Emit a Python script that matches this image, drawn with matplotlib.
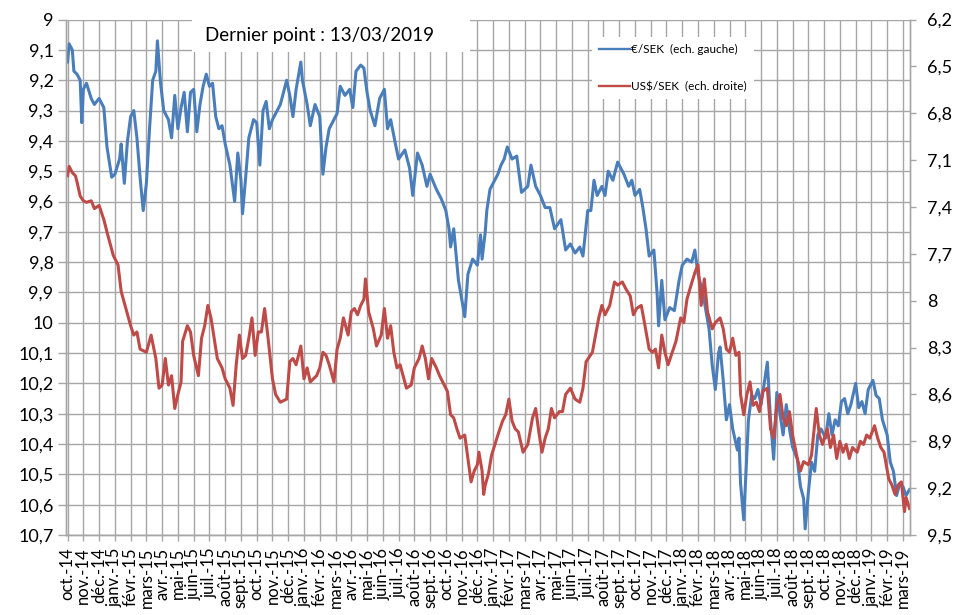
import matplotlib
matplotlib.use("Agg")
import matplotlib.pyplot as plt
from matplotlib.lines import Line2D
from matplotlib.patches import Rectangle
from matplotlib.ticker import FuncFormatter

plt.rcParams["font.family"] = ["Lato", "DejaVu Sans"]

# ---------------- data ----------------
month_labels = [
    "oct.-14", "nov.-14", "déc.-14",
    "janv.-15", "févr.-15", "mars-15", "avr.-15", "mai-15", "juin-15", "juil.-15", "août-15", "sept.-15", "oct.-15", "nov.-15", "déc.-15",
    "janv.-16", "févr.-16", "mars-16", "avr.-16", "mai-16", "juin-16", "juil.-16", "août-16", "sept.-16", "oct.-16", "nov.-16", "déc.-16",
    "janv.-17", "févr.-17", "mars-17", "avr.-17", "mai-17", "juin-17", "juil.-17", "août-17", "sept.-17", "oct.-17", "nov.-17", "déc.-17",
    "janv.-18", "févr.-18", "mars-18", "avr.-18", "mai-18", "juin-18", "juil.-18", "août-18", "sept.-18", "oct.-18", "nov.-18", "déc.-18",
    "janv.-19", "févr.-19", "mars-19",
]

# time in months since 1 Oct 2014
eur_t = [0.0, 0.1, 0.3, 0.4, 0.6, 0.8, 0.9, 1.0, 1.2, 1.5, 1.7, 2.0, 2.3, 2.5, 2.8, 3.0, 3.3, 3.4, 3.6, 3.8,
         4.0, 4.2, 4.4, 4.6, 4.8, 5.0, 5.2, 5.4, 5.6, 5.7, 5.9, 6.1, 6.4, 6.6, 6.8, 7.0, 7.2, 7.4, 7.6, 7.8,
         8.0, 8.2, 8.4, 8.6, 8.8, 9.0, 9.2, 9.4, 9.6, 9.8, 10.0, 10.3, 10.6, 10.8, 11.0, 11.1, 11.3, 11.5, 11.8, 12.0,
         12.2, 12.4, 12.6, 12.8, 13.0, 13.2, 13.5, 13.9, 14.1, 14.3, 14.5, 14.8, 14.9, 15.2, 15.4, 15.7, 16.0, 16.2, 16.4, 16.6,
         16.9, 17.1, 17.3, 17.6, 17.9, 18.1, 18.3, 18.6, 18.8, 19.0, 19.2, 19.5, 19.8, 20.1, 20.3, 20.5, 20.8, 21.0, 21.4, 21.7,
         21.9, 22.2, 22.5, 22.8, 23.0, 23.4, 23.7, 24.0, 24.2, 24.3, 24.5, 24.8, 25.2, 25.4, 25.7, 26.0, 26.2, 26.3, 26.5, 26.6,
         26.8, 27.0, 27.3, 27.5, 27.7, 27.9, 28.2, 28.5, 28.8, 29.2, 29.4, 29.7, 30.0, 30.3, 30.6, 30.9, 31.3, 31.6, 31.9, 32.2,
         32.5, 32.7, 33.0, 33.2, 33.4, 33.6, 33.9, 34.1, 34.3, 34.6, 34.9, 35.3, 35.6, 35.8, 36.0, 36.3, 36.5, 36.7, 36.9, 37.2,
         37.4, 37.5, 37.7, 37.9, 38.2, 38.5, 38.8, 39.0, 39.3, 39.6, 39.8, 40.0, 40.3, 40.7, 40.9, 41.1, 41.3, 41.4, 41.6, 41.8,
         42.0, 42.2, 42.5, 42.6, 42.7, 42.9, 43.0, 43.2, 43.4, 43.6, 43.8, 44.0, 44.4, 44.6, 44.8, 45.0, 45.2, 45.4, 45.6, 45.8,
         46.0, 46.3, 46.5, 46.7, 46.8, 47.0, 47.2, 47.4, 47.6, 47.8, 48.1, 48.3, 48.5, 48.7, 48.9, 49.1, 49.3, 49.5, 49.7, 50.0,
         50.2, 50.4, 50.6, 50.8, 51.1, 51.3, 51.5, 51.7, 52.0, 52.2, 52.4, 52.6, 52.8, 53.0, 53.2, 53.42]
eur_v = [9.14, 9.08, 9.10, 9.17, 9.18, 9.20, 9.34, 9.23, 9.21, 9.26, 9.28, 9.26, 9.29, 9.42, 9.52, 9.51, 9.46, 9.41, 9.54, 9.40,
         9.32, 9.30, 9.39, 9.52, 9.63, 9.54, 9.36, 9.20, 9.17, 9.07, 9.21, 9.30, 9.33, 9.39, 9.25, 9.36, 9.29, 9.24, 9.37, 9.24,
         9.23, 9.37, 9.28, 9.22, 9.18, 9.22, 9.21, 9.32, 9.36, 9.35, 9.41, 9.48, 9.60, 9.44, 9.53, 9.64, 9.52, 9.39, 9.33, 9.34,
         9.48, 9.30, 9.27, 9.36, 9.33, 9.31, 9.28, 9.20, 9.25, 9.32, 9.23, 9.14, 9.20, 9.28, 9.35, 9.28, 9.32, 9.51, 9.42, 9.36,
         9.33, 9.31, 9.22, 9.25, 9.23, 9.29, 9.17, 9.15, 9.16, 9.24, 9.30, 9.35, 9.26, 9.23, 9.36, 9.33, 9.41, 9.46, 9.43, 9.49,
         9.58, 9.44, 9.48, 9.55, 9.51, 9.56, 9.59, 9.63, 9.69, 9.75, 9.69, 9.86, 9.98, 9.84, 9.79, 9.81, 9.71, 9.79, 9.70, 9.63,
         9.56, 9.54, 9.51, 9.48, 9.46, 9.42, 9.46, 9.45, 9.57, 9.55, 9.48, 9.55, 9.58, 9.62, 9.62, 9.69, 9.66, 9.76, 9.74, 9.77,
         9.75, 9.78, 9.63, 9.63, 9.53, 9.58, 9.55, 9.58, 9.50, 9.53, 9.47, 9.51, 9.55, 9.53, 9.58, 9.56, 9.62, 9.69, 9.78, 9.76,
         9.90, 10.01, 9.86, 9.99, 9.95, 9.96, 9.86, 9.81, 9.79, 9.80, 9.76, 9.84, 9.90, 10.02, 10.14, 10.22, 10.10, 10.08, 10.19, 10.32,
         10.27, 10.35, 10.42, 10.38, 10.53, 10.65, 10.54, 10.32, 10.24, 10.25, 10.22, 10.27, 10.13, 10.32, 10.45, 10.23, 10.30, 10.37, 10.27, 10.35,
         10.41, 10.45, 10.54, 10.58, 10.68, 10.56, 10.46, 10.49, 10.37, 10.35, 10.38, 10.30, 10.37, 10.32, 10.34, 10.26, 10.25, 10.30, 10.27, 10.20,
         10.28, 10.26, 10.30, 10.22, 10.19, 10.24, 10.25, 10.32, 10.37, 10.46, 10.49, 10.57, 10.53, 10.54, 10.57, 10.55]

usd_t = [0.0, 0.1, 0.3, 0.5, 0.6, 0.8, 1.0, 1.2, 1.5, 1.7, 2.0, 2.3, 2.5, 2.9, 3.2, 3.4, 3.7, 4.0, 4.2, 4.4,
         4.6, 5.0, 5.3, 5.6, 5.8, 6.0, 6.2, 6.4, 6.6, 6.8, 7.0, 7.2, 7.3, 7.6, 7.8, 8.0, 8.3, 8.5, 8.7, 8.9,
         9.1, 9.3, 9.5, 9.8, 10.0, 10.3, 10.5, 10.7, 10.9, 11.1, 11.3, 11.5, 11.7, 11.9, 12.1, 12.3, 12.5, 12.7, 13.0, 13.2,
         13.5, 13.9, 14.1, 14.3, 14.5, 14.8, 15.0, 15.2, 15.4, 15.8, 16.0, 16.2, 16.4, 16.6, 16.9, 17.1, 17.3, 17.5, 17.8, 18.0,
         18.2, 18.4, 18.6, 18.8, 18.9, 19.1, 19.4, 19.6, 19.9, 20.1, 20.3, 20.5, 20.7, 20.9, 21.1, 21.5, 21.8, 22.0, 22.3, 22.5,
         22.7, 22.9, 23.1, 23.4, 23.6, 23.8, 24.1, 24.3, 24.5, 24.7, 24.9, 25.2, 25.4, 25.6, 25.8, 26.0, 26.1, 26.3, 26.4, 26.5,
         26.7, 26.9, 27.3, 27.6, 27.8, 28.0, 28.2, 28.4, 28.6, 28.9, 29.2, 29.5, 29.7, 29.9, 30.1, 30.3, 30.5, 30.7, 30.9, 31.2,
         31.4, 31.6, 31.9, 32.2, 32.5, 32.7, 32.9, 33.3, 33.5, 33.7, 33.9, 34.1, 34.4, 34.7, 34.9, 35.2, 35.4, 35.7, 35.9, 36.1,
         36.4, 36.6, 36.9, 37.1, 37.3, 37.5, 37.7, 37.9, 38.1, 38.3, 38.6, 38.9, 39.1, 39.3, 39.5, 39.8, 40.0, 40.2, 40.4, 40.6,
         40.9, 41.1, 41.4, 41.6, 41.8, 42.0, 42.2, 42.4, 42.6, 42.7, 42.9, 43.1, 43.3, 43.5, 43.7, 43.9, 44.1, 44.4, 44.6, 44.8,
         45.0, 45.2, 45.4, 45.6, 45.8, 46.0, 46.3, 46.5, 46.7, 47.0, 47.2, 47.5, 47.7, 47.9, 48.2, 48.4, 48.6, 48.8, 49.0, 49.2,
         49.4, 49.6, 49.8, 50.1, 50.3, 50.5, 50.7, 50.9, 51.2, 51.4, 51.6, 51.8, 52.1, 52.3, 52.5, 52.7, 52.9, 53.1, 53.2, 53.42]
usd_v = [7.20, 7.14, 7.18, 7.20, 7.24, 7.33, 7.36, 7.37, 7.36, 7.41, 7.39, 7.48, 7.56, 7.71, 7.77, 7.94, 8.05, 8.16, 8.22, 8.20,
         8.31, 8.33, 8.22, 8.37, 8.56, 8.54, 8.37, 8.54, 8.48, 8.69, 8.60, 8.52, 8.26, 8.16, 8.20, 8.35, 8.48, 8.24, 8.16, 8.03,
         8.11, 8.24, 8.37, 8.43, 8.50, 8.56, 8.67, 8.41, 8.22, 8.37, 8.35, 8.24, 8.11, 8.35, 8.20, 8.20, 8.05, 8.22, 8.50, 8.60,
         8.65, 8.63, 8.39, 8.37, 8.41, 8.29, 8.50, 8.43, 8.52, 8.48, 8.43, 8.33, 8.35, 8.41, 8.52, 8.31, 8.24, 8.11, 8.22, 8.07,
         8.05, 8.09, 8.03, 7.99, 7.86, 8.07, 8.18, 8.29, 8.22, 8.05, 8.24, 8.16, 8.33, 8.43, 8.41, 8.56, 8.54, 8.43, 8.37, 8.29,
         8.37, 8.50, 8.37, 8.43, 8.48, 8.52, 8.58, 8.73, 8.75, 8.82, 8.88, 8.86, 9.01, 9.16, 9.09, 9.05, 8.97, 9.09, 9.24, 9.18,
         9.11, 8.99, 8.86, 8.77, 8.73, 8.63, 8.77, 8.82, 8.84, 8.97, 8.92, 8.75, 8.69, 8.84, 8.97, 8.88, 8.82, 8.69, 8.75, 8.71,
         8.71, 8.60, 8.56, 8.63, 8.65, 8.56, 8.39, 8.33, 8.22, 8.11, 8.03, 8.09, 8.03, 7.88, 7.90, 7.88, 7.92, 7.97, 8.09, 8.05,
         8.03, 8.14, 8.31, 8.33, 8.31, 8.43, 8.22, 8.33, 8.41, 8.35, 8.26, 8.11, 8.14, 7.99, 7.92, 7.82, 7.77, 8.03, 7.86, 8.07,
         8.18, 8.14, 8.11, 8.18, 8.31, 8.33, 8.24, 8.35, 8.33, 8.60, 8.73, 8.60, 8.52, 8.67, 8.65, 8.71, 8.58, 8.56, 8.82, 8.88,
         8.67, 8.60, 8.75, 8.80, 8.71, 8.86, 9.01, 9.09, 9.03, 9.05, 8.99, 8.69, 8.86, 8.92, 8.82, 8.94, 8.86, 9.01, 8.90, 8.97,
         8.92, 9.01, 8.94, 8.97, 8.90, 8.92, 8.86, 8.88, 8.80, 8.88, 8.94, 8.97, 9.14, 9.18, 9.24, 9.18, 9.16, 9.35, 9.26, 9.33]

left_ticks = [9.0, 9.1, 9.2, 9.3, 9.4, 9.5, 9.6, 9.7, 9.8, 9.9, 10.0, 10.1, 10.2, 10.3, 10.4, 10.5, 10.6, 10.7]
right_ticks = [6.2, 6.5, 6.8, 7.1, 7.4, 7.7, 8.0, 8.3, 8.6, 8.9, 9.2, 9.5]

eur_label = "€/SEK  (ech. gauche)"
usd_label = "US$/SEK  (ech. droite)"
note_text = "Dernier point : 13/03/2019"

# ---------------- styling ----------------
W, H = 957, 615
BLUE = "#4a7ebb"
RED = "#be4b48"
GRID = "#a6a6a6"
LW = 2.2


def fr(v, pos=None):
    s = f"{v:.1f}"
    if s.endswith(".0"):
        s = s[:-2]
    return s.replace(".", ",")


fig = plt.figure(figsize=(W / 100, H / 100), dpi=100)
fig.patch.set_facecolor("white")
L, R, T, B = 66, 910, 19.6, 535
ax = fig.add_axes([L / W, 1 - B / H, (R - L) / W, (B - T) / H])
ax2 = ax.twinx()

ax.plot(eur_t, eur_v, color=BLUE, lw=LW, solid_joinstyle="round")
ax2.plot(usd_t, usd_v, color=RED, lw=LW, solid_joinstyle="round")

ax.set_xlim(-0.1, 53.45)
ax.set_ylim(10.7, 9.0)
ax2.set_ylim(9.5, 6.2)

ax.set_yticks(left_ticks)
ax.yaxis.set_major_formatter(FuncFormatter(fr))
ax2.set_yticks(right_ticks)
ax2.yaxis.set_major_formatter(FuncFormatter(fr))

ax.set_xticks(range(len(month_labels)))
ax.set_xticklabels(month_labels, rotation=90, fontsize=12, va="top", ha="center")

ax.grid(True, color=GRID, lw=1.0)
ax.set_axisbelow(True)
ax2.grid(False)

for a in (ax, ax2):
    a.spines["top"].set_visible(False)
    for s in ("left", "right", "bottom"):
        a.spines[s].set_color(GRID)
        a.spines[s].set_linewidth(1.0)

ax.tick_params(axis="y", direction="out", length=6, width=1, color=GRID, labelsize=13, pad=3)
ax.tick_params(axis="x", direction="out", length=4, width=1, color=GRID, pad=5)
ax2.tick_params(axis="y", direction="out", length=4, width=1, color=GRID, labelsize=13, pad=8)

# note box
fig.patches.append(Rectangle((192 / W, 1 - 52 / H), (470 - 192) / W, 35 / H,
                             transform=fig.transFigure, facecolor="white", edgecolor="none", zorder=2))
fig.text(205 / W, 1 - 36 / H, note_text, fontsize=13.5, ha="left", va="center", zorder=3)

# legend
handles = [Line2D([], [], color=BLUE, lw=1.7), Line2D([], [], color=RED, lw=1.7)]
leg = ax2.legend(handles, [eur_label, usd_label], loc="upper left",
                 bbox_to_anchor=(592 / W, 1 - 37 / H), bbox_transform=fig.transFigure,
                 fontsize=8.5, frameon=True, fancybox=False, framealpha=1, facecolor="white",
                 edgecolor="none", handlelength=2.6, handletextpad=0.1, labelspacing=2.2,
                 borderpad=0.6, borderaxespad=0)
leg.set_zorder(10)

fig.savefig("out.png", dpi=100)
